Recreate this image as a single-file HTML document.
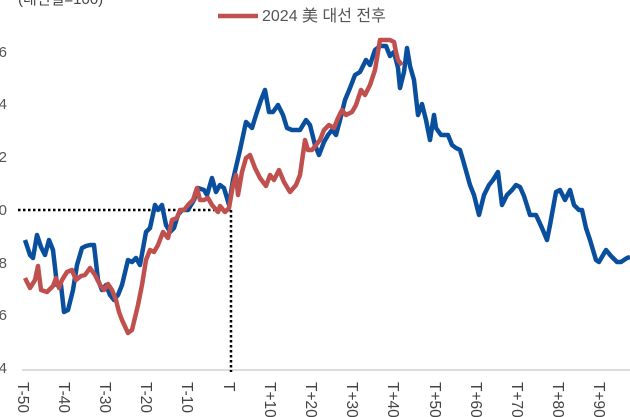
<!DOCTYPE html>
<html><head><meta charset="utf-8"><style>
html,body{margin:0;padding:0;background:#fff;width:630px;height:417px;overflow:hidden}
svg{display:block}
text{font-family:"Liberation Sans","Noto Sans CJK KR",sans-serif}
</style></head><body>
<svg width="630" height="417" viewBox="0 0 630 417">
<text x="18" y="4" font-size="15" fill="#444">(대선일=100)</text>
<g font-size="15" fill="#555" text-anchor="end">
<text x="7" y="57">6</text><text x="7" y="109">4</text><text x="7" y="162">2</text>
<text x="7" y="215">0</text><text x="7" y="268">8</text><text x="7" y="320">6</text><text x="7" y="373">4</text>
</g>
<line x1="22" y1="370" x2="630" y2="370" stroke="#d0d0d0" stroke-width="1.5"/>
<line x1="18" y1="210" x2="231" y2="210" stroke="#000" stroke-width="2.5" stroke-dasharray="2.5,2.5"/>
<line x1="231" y1="210" x2="231" y2="372" stroke="#000" stroke-width="2.5" stroke-dasharray="2.5,2.5"/>
<line x1="218" y1="16" x2="258" y2="16" stroke="#c0504d" stroke-width="4.5"/>
<text x="262" y="21" font-size="16" fill="#555">2024 美 대선 전후</text>
<polyline fill="none" stroke="#0a4f9e" stroke-width="4.5" stroke-linejoin="round" points="25,240 30,255 33,258 37,235 41,247 45,255 49,240 53,250 57,285 61,285 64,312 68,310 73,290 77,265 82,248 86,246 90,245 94,245 98,280 102,290 106,285 110,295 114,300 118,295 122,285 128,260 132,262 136,258 140,265 146,232 150,228 155,205 158,210 162,205 166,225 170,232 174,228 178,215 182,210 188,210 194,200 198,188 204,190 207,195 212,178 216,192 220,185 224,188 229,205 233,180 240,150 246,122 252,128 256,115 261,100 265,90 269,112 273,112 278,105 283,115 287,128 292,130 300,130 306,120 310,125 315,145 319,155 324,142 328,135 332,130 336,135 340,120 345,100 350,88 355,75 360,72 366,60 370,65 375,50 380,46 386,46 390,56 394,52 398,68 400,88 404,72 407,48 410,66 414,80 418,115 422,104 426,120 430,140 434,115 436,128 441,135 448,135 452,145 456,148 460,150 463,160 470,185 474,195 479,215 484,195 489,185 493,180 498,172 502,205 507,195 512,190 516,185 520,187 524,196 530,215 536,215 542,228 547,240 550,225 556,192 560,190 565,200 570,190 574,205 579,210 582,210 586,228 590,240 596,260 599,262 606,250 611,256 617,262 621,262 627,258 630,257"/>
<polyline fill="none" stroke="#c0504d" stroke-width="4.5" stroke-linejoin="round" points="25,278 30,288 35,280 38,266 41,290 47,292 53,286 56,278 59,288 62,280 67,272 72,270 76,280 81,276 85,275 90,268 95,275 100,285 104,290 108,284 112,290 116,300 119,312 122,320 128,333 132,330 138,305 142,285 146,260 150,250 154,252 158,245 163,232 168,238 172,220 177,218 180,210 184,210 188,205 193,200 197,188 200,200 204,200 208,198 212,205 218,212 220,206 225,212 229,208 233,185 236,175 238,195 242,172 246,158 250,155 255,168 260,178 266,186 270,175 274,180 279,170 284,182 290,192 296,185 300,175 305,140 308,150 312,150 316,145 320,140 324,130 329,125 334,128 338,118 342,110 346,115 352,112 356,105 361,90 365,95 370,85 375,70 380,40 386,40 390,40 394,42 396,52 398,60 402,65"/>
<g font-size="15.5" fill="#444">
<text transform="translate(18,382) rotate(90)">T-50</text>
<text transform="translate(59,382) rotate(90)">T-40</text>
<text transform="translate(100,382) rotate(90)">T-30</text>
<text transform="translate(141,382) rotate(90)">T-20</text>
<text transform="translate(182,382) rotate(90)">T-10</text>
<text transform="translate(224,382) rotate(90)">T</text>
<text transform="translate(265,382) rotate(90)">T+10</text>
<text transform="translate(306,382) rotate(90)">T+20</text>
<text transform="translate(347,382) rotate(90)">T+30</text>
<text transform="translate(388,382) rotate(90)">T+40</text>
<text transform="translate(430,382) rotate(90)">T+50</text>
<text transform="translate(471,382) rotate(90)">T+60</text>
<text transform="translate(512,382) rotate(90)">T+70</text>
<text transform="translate(553,382) rotate(90)">T+80</text>
<text transform="translate(594,382) rotate(90)">T+90</text>
</g>
</svg>
</body></html>
